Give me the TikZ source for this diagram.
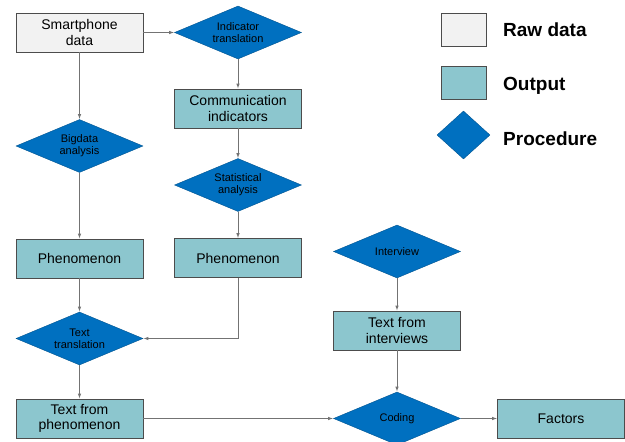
\documentclass[tikz,border=0pt]{standalone}
\usepackage{fontspec}
\setmainfont{Liberation Sans}
\usetikzlibrary{shapes,positioning}
\definecolor{rawgray}{RGB}{242,242,242}
\definecolor{outteal}{RGB}{140,198,206}
\definecolor{procblue}{RGB}{0,112,192}

\begin{document}
\begin{tikzpicture}[x=1pt,y=1pt,on grid,>=latex,shorten >=0.5pt,
  rawbox/.style={rectangle,draw=black!70,fill=rawgray,minimum width=127pt,
    minimum height=39pt,inner sep=0pt,align=center,font=\fontsize{14}{15.5}\selectfont},
  outbox/.style={rawbox,fill=outteal},
  procbox/.style={diamond,aspect=2.4,draw=procblue!75!black,fill=procblue,
    minimum width=127pt,minimum height=53pt,inner sep=0pt,align=center,
    font=\fontsize{11}{12}\selectfont},
  keytext/.style={inner sep=0pt,anchor=base west,font=\fontsize{19}{19}\selectfont\bfseries},
  every edge/.append style={black!55,line width=0.6pt}]

   \useasboundingbox (0,0) rectangle (625,-442);

   \node[rawbox] (r_0) at (79.5,-32.5) {Smartphone\\data};
   \node[procbox] (p_0) [right=158.5pt of r_0] {Indicator\\translation};
   \node[outbox] (o_0) [below=76pt of p_0] {Communication\\indicators};
   \node[procbox] (p_1) [below=113.5pt of r_0] {Bigdata\\analysis};
   \node[procbox] (p_2) [below=76.5pt of o_0] {Statistical\\analysis};
   \node[outbox] (o_1) [below=112.5pt of p_1] {Phenomenon};
   \node[outbox] (o_2) [below=73pt of p_2] {Phenomenon};
   \node[procbox] (p_3) [below=80pt of o_1] {Text\\translation};
   \node[outbox] (o_3) [below=80pt of p_3] {Text from\\phenomenon};
   \node[procbox] (p_5) [right=317.5pt of o_3] {Coding};
   \node[outbox] (o_4) [above=88pt of p_5] {Text from\\interviews};
   \node[procbox] (p_4) [above=79pt of o_4] {Interview};
   \node[outbox] (o_5) [right=164pt of p_5] {Factors};

   % legend
   \node[rawbox,minimum width=45pt,minimum height=33pt] (k_0) at (463.5,-29.5) {};
   \node[outbox,minimum width=45pt,minimum height=33pt] (k_1) [below=53pt of k_0] {};
   \node[procbox,minimum width=53pt,minimum height=48pt] (k_2) [below=52.5pt of k_1] {};
   \node[keytext] (t_0) at (503,-36.5) {Raw data};
   \node[keytext] (t_1) at (503,-90.5) {Output};
   \node[keytext] (t_2) at (503,-145.5) {Procedure};

    \path[->]
    (r_0) edge (p_0)
          edge (p_1)
    (p_0) edge (o_0)
    (o_0) edge (p_2)
    (p_1) edge (o_1)
    (p_2) edge (o_2)
    (o_1) edge (p_3)
    (o_2) edge [to path={(\tikztostart) |- (\tikztotarget)}] (p_3)
    (p_3) edge (o_3)
    (o_3) edge (p_5)
    (p_4) edge (o_4)
    (o_4) edge (p_5)
    (p_5) edge (o_5);
\end{tikzpicture}
\end{document}
